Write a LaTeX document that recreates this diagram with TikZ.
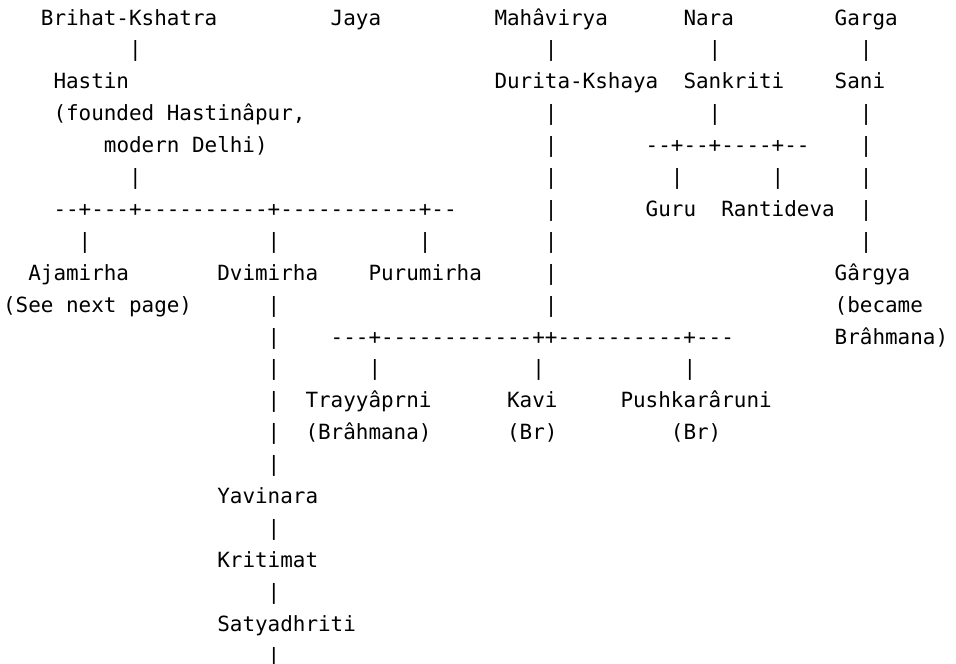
\documentclass[tikz,border=0pt]{standalone}
\usepackage{fontspec}
\setmonofont{DejaVu Sans Mono}
\tikzset{txt/.style={anchor=base west, inner sep=0pt, outer sep=0pt,
  font=\ttfamily\fontsize{20.93}{25}\selectfont, text=black}}
\newcommand\putx[4]{\node[txt] (#1) at ({3.1+12.6*#2},{-25-31.9*#3}) {#4};}
\begin{document}
\begin{tikzpicture}[x=1pt,y=1pt]
\useasboundingbox[fill=white] (0,0) rectangle (956,-664);
% row 0
\putx{brihat}{3}{0}{Brihat-Kshatra}
\putx{jaya}{26}{0}{Jaya}
\putx{mahavirya}{39}{0}{Mahâvirya}
\putx{nara}{54}{0}{Nara}
\putx{garga}{66}{0}{Garga}
% row 1
\putx{p1a}{10}{1}{|}
\putx{p1b}{43}{1}{|}
\putx{p1c}{56}{1}{|}
\putx{p1d}{68}{1}{|}
% row 2
\putx{hastin}{4}{2}{Hastin}
\putx{durita}{39}{2}{Durita-Kshaya}
\putx{sankriti}{54}{2}{Sankriti}
\putx{sani}{66}{2}{Sani}
% row 3
\putx{hastinA}{4}{3}{(founded Hastinâpur,}
\putx{p3b}{43}{3}{|}
\putx{p3c}{56}{3}{|}
\putx{p3d}{68}{3}{|}
% row 4
\putx{hastinB}{8}{4}{modern Delhi)}
\putx{p4b}{43}{4}{|}
\putx{bar4}{51}{4}{--+--+----+--}
\putx{p4d}{68}{4}{|}
% row 5
\putx{p5a}{10}{5}{|}
\putx{p5b}{43}{5}{|}
\putx{p5c}{53}{5}{|}
\putx{p5d}{61}{5}{|}
\putx{p5e}{68}{5}{|}
% row 6
\putx{bar6}{4}{6}{--+---+----------+-----------+--}
\putx{p6b}{43}{6}{|}
\putx{guru}{51}{6}{Guru}
\putx{rantideva}{57}{6}{Rantideva}
\putx{p6e}{68}{6}{|}
% row 7
\putx{p7a}{6}{7}{|}
\putx{p7b}{21}{7}{|}
\putx{p7c}{33}{7}{|}
\putx{p7d}{43}{7}{|}
\putx{p7e}{68}{7}{|}
% row 8
\putx{ajamirha}{2}{8}{Ajamirha}
\putx{dvimirha}{17}{8}{Dvimirha}
\putx{purumirha}{29}{8}{Purumirha}
\putx{p8d}{43}{8}{|}
\putx{gargya}{66}{8}{Gârgya}
% row 9
\putx{ajamirhaA}{0}{9}{(See next page)}
\putx{p9b}{21}{9}{|}
\putx{p9c}{43}{9}{|}
\putx{gargyaA}{66}{9}{(became}
% row 10
\putx{p10a}{21}{10}{|}
\putx{bar10}{26}{10}{---+------------++----------+---}
\putx{gargyaB}{66}{10}{Brâhmana)}
% row 11
\putx{p11a}{21}{11}{|}
\putx{p11b}{29}{11}{|}
\putx{p11c}{42}{11}{|}
\putx{p11d}{54}{11}{|}
% row 12
\putx{p12a}{21}{12}{|}
\putx{trayya}{24}{12}{Trayyâprni}
\putx{kavi}{40}{12}{Kavi}
\putx{pushkar}{49}{12}{Pushkarâruni}
% row 13
\putx{p13a}{21}{13}{|}
\putx{trayyaA}{24}{13}{(Brâhmana)}
\putx{kaviA}{40}{13}{(Br)}
\putx{pushkarA}{53}{13}{(Br)}
% rows 14-20
\putx{p14}{21}{14}{|}
\putx{yavinara}{17}{15}{Yavinara}
\putx{p16}{21}{16}{|}
\putx{kritimat}{17}{17}{Kritimat}
\putx{p18}{21}{18}{|}
\putx{satyadhriti}{17}{19}{Satyadhriti}
\putx{p20}{21}{20}{|}
\end{tikzpicture}
\end{document}
